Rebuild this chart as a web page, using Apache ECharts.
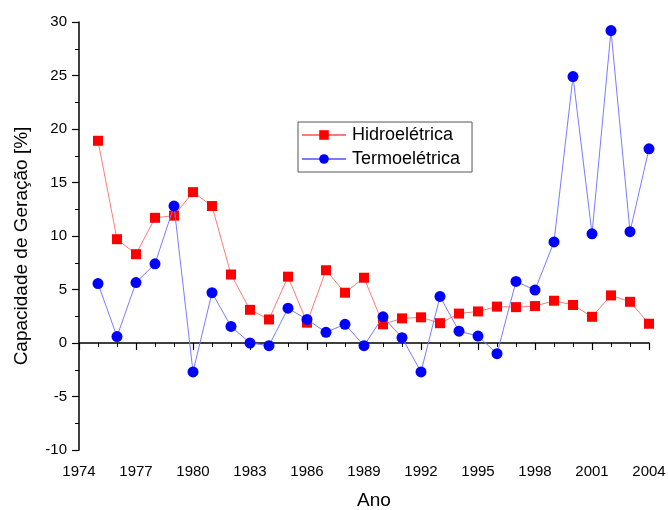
<!DOCTYPE html>
<html><head><meta charset="utf-8">
<script src="https://cdn.jsdelivr.net/npm/echarts@6/dist/echarts.min.js"></script>
<style>html,body{margin:0;padding:0;background:#fff}#c{width:668px;height:510px}</style>
</head><body><div id="c"></div>
<script>
const years = [1975,1976,1977,1978,1979,1980,1981,1982,1983,1984,1985,1986,1987,1988,1989,1990,1991,1992,1993,1994,1995,1996,1997,1998,1999,2000,2001,2002,2003,2004];
const hidro = [18.9,9.7,8.3,11.7,11.9,14.1,12.8,6.4,3.1,2.2,6.2,1.9,6.8,4.7,6.1,1.75,2.3,2.4,1.85,2.75,2.95,3.4,3.35,3.45,3.95,3.55,2.45,4.45,3.85,1.8];
const termo = [5.55,0.6,5.65,7.4,12.8,-2.7,4.7,1.55,0,-0.25,3.25,2.2,1.0,1.75,-0.25,2.45,0.5,-2.7,4.35,1.1,0.65,-1.0,5.75,4.95,9.45,24.9,10.2,29.2,10.4,18.15];
const xTicks = {min:1974, max:2004, interval:3};
const yTicks = {min:-10, max:30, interval:5};

const chart = echarts.init(document.getElementById('c'), null, {renderer:'canvas'});
const font = 'Liberation Sans, Arial, sans-serif';
const axisCommon = {
  axisLine:{show:true, lineStyle:{color:'#000', width:1.5}},
  axisTick:{show:true, inside:false, length:7, lineStyle:{color:'#000', width:1.2}},
  minorTick:{show:true, length:4, lineStyle:{color:'#000', width:1}},
  splitLine:{show:false},
  axisLabel:{color:'#000', fontFamily:font, fontSize:15}
};
chart.setOption({
  animation:false,
  backgroundColor:'#fff',
  grid:{left:79, right:19, top:22, bottom:60, containLabel:false, outerBoundsMode:'none'},
  xAxis:Object.assign({}, axisCommon, {
    type:'value', min:xTicks.min, max:xTicks.max, interval:xTicks.interval,
    minorTick:Object.assign({}, axisCommon.minorTick, {splitNumber:3}),
    axisLabel:Object.assign({}, axisCommon.axisLabel, {margin:14, showMaxLabel:true, showMinLabel:true, formatter:v=>String(v)}),
    name:'Ano', nameLocation:'middle', nameGap:41,
    nameTextStyle:{color:'#000', fontFamily:font, fontSize:19, padding:[0,0,0,20]}
  }),
  yAxis:Object.assign({}, axisCommon, {
    type:'value', min:yTicks.min, max:yTicks.max, interval:yTicks.interval,
    minorTick:Object.assign({}, axisCommon.minorTick, {splitNumber:2}),
    axisLabel:Object.assign({}, axisCommon.axisLabel, {margin:12}),
    name:'Capacidade de Geração [%]', nameLocation:'middle', nameGap:48,
    nameTextStyle:{color:'#000', fontFamily:font, fontSize:19, padding:[0,20,0,0]}
  }),
  legend:{
    left:298, top:122, orient:'vertical',
    backgroundColor:'#fff', borderColor:'#555', borderWidth:1, borderRadius:0,
    padding:[4,12,4,3], itemGap:6, itemWidth:44, itemHeight:12,
    textStyle:{color:'#000', fontFamily:font, fontSize:18, padding:[0,0,0,1]},
    data:['Hidroelétrica','Termoelétrica']
  },
  series:[
    {name:'Hidroelétrica', type:'line', data:years.map((y,i)=>[y,hidro[i]]),
     symbol:'rect', symbolSize:10, itemStyle:{color:'#ff0000'},
     lineStyle:{color:'#ff7b7b', width:1}, z:3},
    {name:'Termoelétrica', type:'line', data:years.map((y,i)=>[y,termo[i]]),
     symbol:'circle', symbolSize:11, itemStyle:{color:'#0000ff'},
     lineStyle:{color:'#7b7bff', width:1}, z:4}
  ]
});
</script></body></html>
